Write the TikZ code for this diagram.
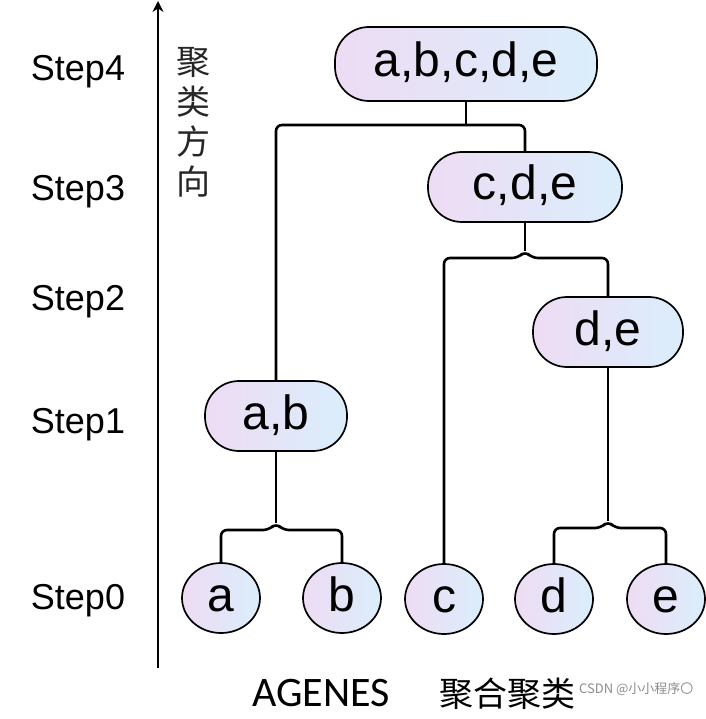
\documentclass[tikz,border=0pt]{standalone}
\usepackage{fontspec}
\setmainfont{Liberation Sans}
\newfontfamily\cjk{Noto Sans CJK SC}
\newfontfamily\calfont{Carlito}
\usetikzlibrary{shapes.geometric,arrows.meta}
\definecolor{pinkl}{HTML}{EEDCF4}
\definecolor{bluel}{HTML}{DAEEFB}
\begin{document}
\begin{tikzpicture}[x=1pt,y=-1pt,
  nodetext/.style={font=\fontsize{48}{48}\selectfont, text height=26pt, text depth=0pt},
  pill/.style={draw, line width=1.7pt, rounded corners=34pt, left color=pinkl, right color=bluel,
    minimum height=70pt, inner sep=0pt, nodetext},
  leaf/.style={draw, ellipse, line width=1.7pt, left color=pinkl, right color=bluel,
    minimum width=78pt, minimum height=70pt, inner sep=0pt, nodetext},
  conn/.style={line width=2.6pt, rounded corners=6pt},
  steplbl/.style={font=\fontsize{36}{36}\selectfont},
  captxt/.style={inner sep=0pt, anchor=base}
]
\useasboundingbox (0,0) rectangle (705,719);

% axis
\coordinate (axb) at (158,668);
\coordinate (axt) at (158,1);
\draw[line width=2.8pt, -{Stealth[length=11pt,width=11pt]}] (axb) -- (axt);
\node[font=\cjk\fontsize{34}{40}\selectfont, align=center, text=black!85] (dir) at (193,122) {聚\\类\\方\\向};

% step labels
\node[steplbl] (s4) at (78,72) {Step4};
\node[steplbl] (s3) at (78,192) {Step3};
\node[steplbl] (s2) at (78,302) {Step2};
\node[steplbl] (s1) at (78,425) {Step1};
\node[steplbl] (s0) at (78,601) {Step0};

% cluster nodes
\node[pill, minimum width=262pt, minimum height=74pt] (abcde) at (466,64) {a,b,c,d,e};
\node[pill, minimum width=194pt] (cde) at (525,187) {c,d,e};
\node[pill, minimum width=150pt] (de) at (608,332) {d,e};
\node[pill, minimum width=142pt] (ab) at (276,416) {a,b};

% leaves
\node[leaf] (a) at (221,598) {a};
\node[leaf] (b) at (342,598) {b};
\node[leaf] (c) at (444,599) {c};
\node[leaf] (d) at (554,599) {d};
\node[leaf] (e) at (666,599) {e};

% junction levels
\coordinate (h4) at (0,125);
\coordinate (h2) at (0,258);
\coordinate (h1) at (0,530);
\coordinate (h0) at (0,528);

% step 4 join
\draw[conn] (abcde.south) -- (abcde.south |- h4);
\draw[conn] (ab.north) |- (cde.north |- h4) -- (cde.north);

% step 3 join
\coordinate (n3) at (cde.south |- h2);
\draw[conn] (cde.south) -- ([yshift=7pt]n3);
\draw[conn] (c.north) |- ([xshift=-7pt]n3) -- ([yshift=7pt]n3) -- ([xshift=7pt]n3) -| (de.north);

% step 1 join
\coordinate (n1) at (ab.south |- h1);
\draw[conn] (ab.south) -- ([yshift=7pt]n1);
\draw[conn] (a.north) |- ([xshift=-7pt]n1) -- ([yshift=7pt]n1) -- ([xshift=7pt]n1) -| (b.north);

% step 2 join
\coordinate (n2) at (de.south |- h0);
\draw[conn] (de.south) -- ([yshift=7pt]n2);
\draw[conn] (d.north) |- ([xshift=-7pt]n2) -- ([yshift=7pt]n2) -- ([xshift=7pt]n2) -| (e.north);

% caption
\node[captxt, font=\calfont\fontsize{42}{42}\selectfont] (cap1) at (321,706) {AGENES};
\node[captxt, font=\cjk\fontsize{34}{34}\selectfont] (cap2) at (507,706) {聚合聚类};
\node[captxt, font=\cjk\fontsize{13}{13}\selectfont, text=black!45, anchor=base west] (wm) at (579,693) {CSDN @小小程序〇};
\end{tikzpicture}
\end{document}
